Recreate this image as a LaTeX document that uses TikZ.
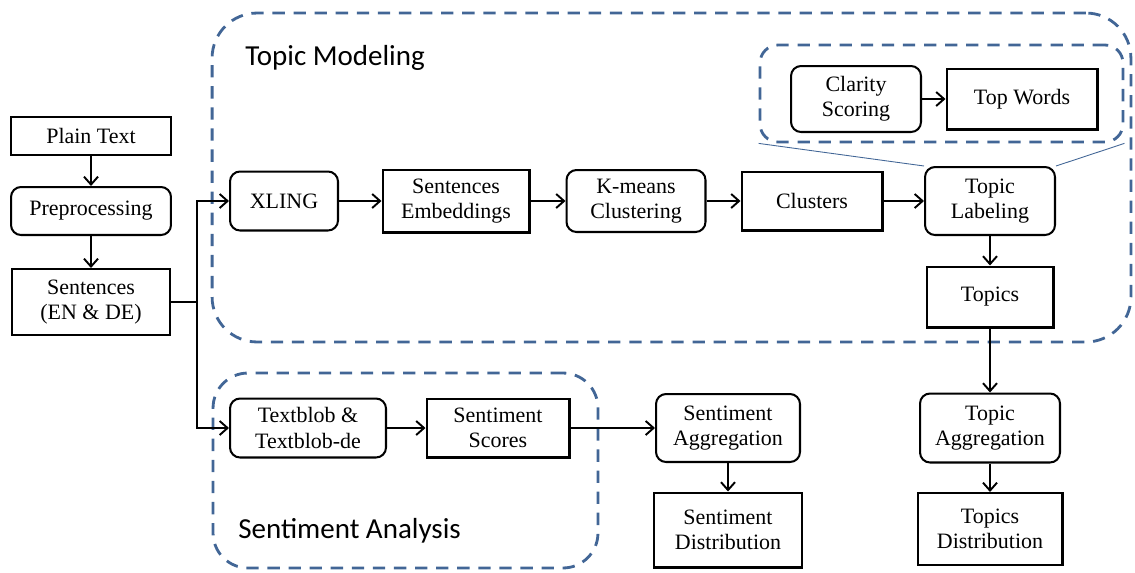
\documentclass[tikz,border=0pt]{standalone}
\usepackage{fontspec}
\setmainfont{Liberation Serif}
\newfontfamily\groupfont{Carlito}
\definecolor{dash-blue}{RGB}{66,102,150}
\usetikzlibrary{arrows.meta}
\usetikzlibrary{positioning}

\begin{document}
\begin{tikzpicture}[%
            x=0.02cm, y=-0.02cm,
            box/.style={%
              draw,
              line width=1.15pt,
              align=center,
              inner sep=0pt,
              font=\fontsize{12.5}{14.5}\selectfont,
            },
            roundbox/.style={box, rounded corners=0.2cm},
            group/.style={%
              draw=dash-blue,
              line width=1.6pt,
              dash pattern=on 7pt off 5pt,
              inner sep=0pt,
            },
            grouplabel/.style={anchor=west, inner sep=0pt, font=\groupfont\fontsize{16.5}{18}\selectfont},
            flow/.style={line width=1.1pt, -{Straight Barb[length=4.5pt,width=8pt]}},
            zoomline/.style={dash-blue, line width=0.5pt},
          ]
            \useasboundingbox (0,0) rectangle (1135,572);

            % dashed regions
            \node [group, rounded corners=0.9cm, minimum width=18.38cm, minimum height=6.58cm]
              (topicgroup) at (671.5,177.5) {};
            \node [group, rounded corners=0.36cm, minimum width=7.26cm, minimum height=1.94cm]
              (claritygroup) at (941.5,93.5) {};
            \node [group, rounded corners=0.7cm, minimum width=7.7cm, minimum height=3.9cm]
              (sentimentgroup) at (405.5,470.5) {};
            \node [grouplabel] (topiclabel) at (245,58) {Topic Modeling};
            \node [grouplabel] (sentimentlabel) at (238,531) {Sentiment Analysis};

            % input
            \node [box, minimum width=3.2cm, minimum height=0.76cm] (plain) at (91,136) {Plain Text};
            \node [roundbox, minimum width=3.2cm, minimum height=0.96cm] (prep) at (91,211) {Preprocessing};
            \node [box, minimum width=3.16cm, minimum height=1.32cm] (sent) at (91,302) {Sentences\\(EN \& DE)};

            % topic modeling
            \node [roundbox, minimum width=2.16cm, minimum height=1.18cm] (xling) at (284,201) {XLING};
            \node [box, minimum width=2.94cm, minimum height=1.26cm] (embed) at (456,201) {Sentences\\Embeddings};
            \node [roundbox, minimum width=2.78cm, minimum height=1.24cm] (kmeans) at (636,201) {K-means\\Clustering};
            \node [box, minimum width=2.82cm, minimum height=1.18cm] (clusters) at (812,201) {Clusters};
            \node [roundbox, minimum width=2.6cm, minimum height=1.36cm] (labeling) at (990,201) {Topic\\Labeling};
            \node [roundbox, minimum width=2.6cm, minimum height=1.32cm] (clarity) at (856,99) {Clarity\\Scoring};
            \node [box, minimum width=3.02cm, minimum height=1.22cm] (topwords) at (1022,99) {Top Words};
            \node [box, minimum width=2.54cm, minimum height=1.22cm] (topics) at (990,297) {Topics};
            \node [roundbox, minimum width=2.8cm, minimum height=1.38cm] (topicagg) at (990,428) {Topic\\Aggregation};
            \node [box, minimum width=2.9cm, minimum height=1.44cm] (topicdist) at (990,529) {Topics\\Distribution};

            % sentiment analysis
            \node [roundbox, minimum width=3.12cm, minimum height=1.18cm] (textblob) at (308,428) {Textblob \&\\Textblob-de};
            \node [box, minimum width=2.86cm, minimum height=1.18cm] (scores) at (498,428) {Sentiment\\Scores};
            \node [roundbox, minimum width=2.88cm, minimum height=1.36cm] (sentagg) at (728,428) {Sentiment\\Aggregation};
            \node [box, minimum width=2.96cm, minimum height=1.5cm] (sentdist) at (728,530) {Sentiment\\Distribution};

            % connectors
            \draw [flow] (plain) -- (prep);
            \draw [flow] (prep) -- (sent);
            \draw [line width=1.1pt] (sent.east) -- ++(26,0) coordinate (fork);
            \draw [flow] (fork) |- (xling);
            \draw [flow] (fork) |- (textblob);
            \draw [flow] (xling) -- (embed);
            \draw [flow] (embed) -- (kmeans);
            \draw [flow] (kmeans) -- (clusters);
            \draw [flow] (clusters) -- (labeling);
            \draw [flow] (clarity) -- (topwords);
            \draw [flow] (labeling) -- (topics);
            \draw [flow] (topics) -- (topicagg);
            \draw [flow] (topicagg) -- (topicdist);
            \draw [flow] (textblob) -- (scores);
            \draw [flow] (scores) -- (sentagg);
            \draw [flow] (sentagg) -- (sentdist);
            \draw [zoomline] (claritygroup.south west) -- (labeling.north west);
            \draw [zoomline] (claritygroup.south east) -- (labeling.north east);
          \end{tikzpicture}
\end{document}
